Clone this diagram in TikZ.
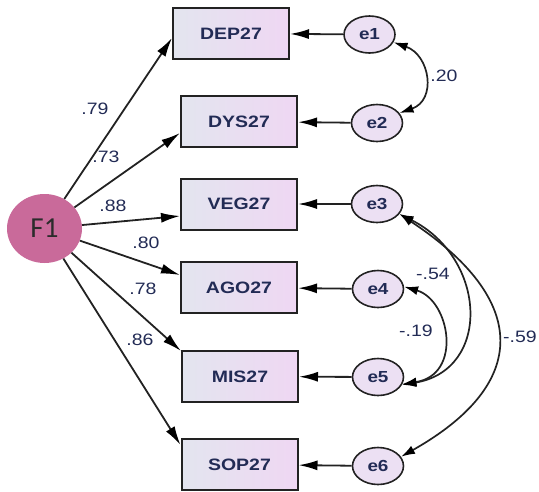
\documentclass[tikz,border=0pt]{standalone}
\usepackage{graphicx}
\usepackage{fontspec}
\setmainfont{Liberation Sans}
\newfontfamily\factorfont{Carlito}
\usetikzlibrary{shapes.geometric,arrows.meta,calc}

\definecolor{inkline}{HTML}{222222}
\definecolor{labelink}{HTML}{222B55}
\definecolor{factorfill}{HTML}{C96A9A}
\definecolor{factorink}{HTML}{2B2B2B}
\definecolor{boxleft}{HTML}{E3E5EF}
\definecolor{boxright}{HTML}{EFD7F3}
\definecolor{errfill}{HTML}{ECE0F3}

% slightly widened sans text
\newcommand{\widetext}[1]{\scalebox{1.18}[1]{#1}}

\tikzset{
  obsbox/.style={draw=inkline, line width=2pt, minimum width=116pt,
    minimum height=51pt, inner sep=0pt, left color=boxleft, right color=boxright,
    text=labelink, font=\fontsize{16.5}{18}\selectfont\bfseries},
  errnode/.style={ellipse, draw=inkline, line width=1.6pt, fill=errfill,
    minimum width=51pt, minimum height=37pt, inner sep=0pt,
    text=labelink, font=\fontsize{16}{18}\selectfont\bfseries},
  latentnode/.style={ellipse, fill=factorfill, minimum width=75pt,
    minimum height=69pt, inner sep=0pt, text=factorink,
    font=\factorfont\fontsize{29}{32}\selectfont},
  coef/.style={text=labelink, inner sep=0pt, font=\fontsize{16.5}{18}\selectfont},
  loadarrow/.style={draw=inkline, line width=1.8pt,
    -{Latex[length=19pt,width=10pt,color=black]}},
  covarrow/.style={draw=inkline, line width=1.7pt,
    {Latex[length=14pt,width=9pt,color=black]}-{Latex[length=14pt,width=9pt,color=black]}},
}

\begin{document}
\begin{tikzpicture}[x=1pt, y=-1pt]
\useasboundingbox (0,0) rectangle (539,491);

% latent factor
\node[latentnode] (F1) at (44.5,228.5) {F1};

% observed indicators
\node[obsbox] (DEP) at (231,33.5)  {\widetext{DEP27}};
\node[obsbox] (DYS) at (239,121.5) {\widetext{DYS27}};
\node[obsbox] (VEG) at (239,204)   {\widetext{VEG27}};
\node[obsbox] (AGO) at (239,287.5) {\widetext{AGO27}};
\node[obsbox] (MIS) at (240,376.5) {\widetext{MIS27}};
\node[obsbox] (SOP) at (239.5,464.5) {\widetext{SOP27}};

% error terms
\node[errnode] (e1) at (369.5,34.5) {\widetext{e1}};
\node[errnode] (e2) at (377,123)  {\widetext{e2}};
\node[errnode] (e3) at (377,204)  {\widetext{e3}};
\node[errnode] (e4) at (378,289)  {\widetext{e4}};
\node[errnode] (e5) at (378,377)  {\widetext{e5}};
\node[errnode] (e6) at (378,466)  {\widetext{e6}};

% arrow targets on the indicator boxes
\coordinate (tDEP) at ($(DEP.west)+(0,4.5)$);
\coordinate (tDYS) at ($(DYS.west)+(0,11.5)$);
\coordinate (tVEG) at ($(VEG.west)+(0,12)$);
\coordinate (tAGO) at ($(AGO.west)+(0,-12.5)$);
\coordinate (tMIS) at ($(MIS.north west)+(0,1)$);
\coordinate (tSOP) at ($(SOP.west)+(0,-19.5)$);

% factor loadings
\draw[loadarrow] (F1) -- (tDEP);
\draw[loadarrow] (F1) -- (tDYS);
\draw[loadarrow] (F1) -- (tVEG);
\draw[loadarrow] (F1) -- (tAGO);
\draw[loadarrow] (F1) -- (tMIS);
\draw[loadarrow] (F1) -- (tSOP);

\node[coef] (l1) at (95,109)  {\widetext{.79}};
\node[coef] (l2) at (106,157) {\widetext{.73}};
\node[coef] (l3) at (113,206) {\widetext{.88}};
\node[coef] (l4) at (146,243) {\widetext{.80}};
\node[coef] (l5) at (143,289) {\widetext{.78}};
\node[coef] (l6) at (140,340) {\widetext{.86}};

% error paths
\draw[loadarrow] (e1) -- (DEP);
\draw[loadarrow] (e2) -- (DYS);
\draw[loadarrow] (e3) -- (VEG);
\draw[loadarrow] (e4) -- (AGO);
\draw[loadarrow] (e5) -- (MIS);
\draw[loadarrow] (e6) -- (SOP);

% error covariances
\draw[covarrow] (e1.-18) .. controls (430,55) and (437,100) .. (e2.24);
\draw[covarrow] (e3.-24) .. controls (487,258) and (492,370) .. (e5.-18);
\draw[covarrow] (e3.-24) .. controls (530,300) and (530,384) .. (e6.22);
\draw[covarrow] (e4.5) .. controls (450,300) and (463,375) .. (e5.-16);

\node[coef] (c12) at (444,76)  {\widetext{.20}};
\node[coef] (c35) at (433,274) {\widetext{-.54}};
\node[coef] (c45) at (416,331) {\widetext{-.19}};
\node[coef] (c36) at (520,337) {\widetext{-.59}};
\end{tikzpicture}
\end{document}
